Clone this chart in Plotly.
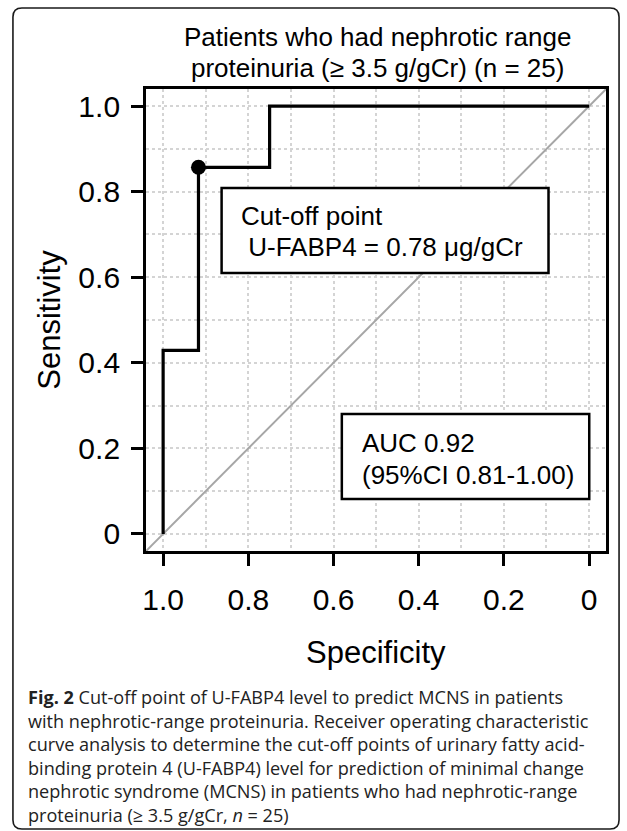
import plotly.graph_objects as go

W, H = 627, 831

# ---------------- data ----------------
specificity = [1.0, 1.0, 0.917, 0.917, 0.75, 0.75, 0.0]
sensitivity = [0.0, 0.429, 0.429, 0.857, 0.857, 1.0, 1.0]
cutoff_spec = [0.917]
cutoff_sens = [0.857]

x_tick_vals = [1.0, 0.8, 0.6, 0.4, 0.2, 0.0]
x_tick_text = ["1.0", "0.8", "0.6", "0.4", "0.2", "0"]
y_tick_vals = [0.0, 0.2, 0.4, 0.6, 0.8, 1.0]
y_tick_text = ["0", "0.2", "0.4", "0.6", "0.8", "1.0"]
minor_grid_vals = [0.1, 0.3, 0.5, 0.7, 0.9]

title_lines = ["Patients who had nephrotic range",
               "proteinuria (≥ 3.5 g/gCr) (n = 25)"]
cutoff_lines = ["Cut-off point", " U-FABP4 = 0.78 μg/gCr"]
auc_lines = ["AUC 0.92", "(95%CI 0.81-1.00)"]
x_title = "Specificity"
y_title = "Sensitivity"
caption_lines = [
    "<b>Fig. 2</b> Cut-off point of U-FABP4 level to predict MCNS in patients",
    "with nephrotic-range proteinuria. Receiver operating characteristic",
    "curve analysis to determine the cut-off points of urinary fatty acid-",
    "binding protein 4 (U-FABP4) level for prediction of minimal change",
    "nephrotic syndrome (MCNS) in patients who had nephrotic-range",
    "proteinuria (≥ 3.5 g/gCr, <i>n</i> = 25)",
]

# ---------------- layout helpers ----------------
def px(x):
    return x / W


def py(y):
    return 1 - y / H


PL, PR, PT, PB = 143, 606, 89, 551
X_RANGE = [1.04, -0.04]
Y_RANGE = [-0.04, 1.04]
FONT = "Liberation Sans, Arial, sans-serif"
CAP_FONT = "Open Sans, Noto Sans, sans-serif"
GRID = "#d4d4d4"

fig = go.Figure()

# chance diagonal spanning the whole plotting region
fig.add_trace(go.Scatter(
    x=X_RANGE, y=Y_RANGE, mode="lines",
    line=dict(color="#a6a6a6", width=2), hoverinfo="skip", showlegend=False))
# ROC curve
fig.add_trace(go.Scatter(
    x=specificity, y=sensitivity, mode="lines",
    line=dict(color="black", width=3.2), hoverinfo="skip", showlegend=False))
# cut-off point
fig.add_trace(go.Scatter(
    x=cutoff_spec, y=cutoff_sens, mode="markers",
    marker=dict(color="black", size=15), hoverinfo="skip", showlegend=False))

axis_common = dict(
    showline=True, linecolor="black", linewidth=3, mirror=True,
    ticks="outside", ticklen=12, tickwidth=2.8, tickcolor="black",
    tickfont=dict(family=FONT, size=30, color="black"),
    showgrid=True, gridcolor=GRID, gridwidth=2, griddash="dot",
    zeroline=False, tickmode="array",
    minor=dict(tickmode="array", tickvals=minor_grid_vals, showgrid=True,
               gridcolor=GRID, gridwidth=2, griddash="dot", ticks=""),
)

fig.update_xaxes(
    domain=[px(PL), px(PR)], range=X_RANGE,
    tickvals=x_tick_vals, ticktext=x_tick_text, ticklabelstandoff=8,
    **axis_common)
fig.update_yaxes(
    domain=[py(PB), py(PT)], range=Y_RANGE,
    tickvals=y_tick_vals, ticktext=y_tick_text, ticklabelstandoff=5,
    **axis_common)

shapes = []
# text boxes (legend-like)
shapes.append(dict(type="rect", xref="paper", yref="paper",
                   x0=px(219), x1=px(548), y0=py(273), y1=py(188),
                   fillcolor="white", line=dict(color="black", width=2.5),
                   layer="above"))
shapes.append(dict(type="rect", xref="paper", yref="paper",
                   x0=px(340), x1=px(589), y0=py(499), y1=py(414),
                   fillcolor="white", line=dict(color="black", width=2.5),
                   layer="above"))
# rounded outer frame
fl, fr, ft, fb, r = 9, 619, 8, 829, 9
path = (f"M {px(fl+r)},{py(ft)} L {px(fr-r)},{py(ft)} "
        f"Q {px(fr)},{py(ft)} {px(fr)},{py(ft+r)} "
        f"L {px(fr)},{py(fb-r)} Q {px(fr)},{py(fb)} {px(fr-r)},{py(fb)} "
        f"L {px(fl+r)},{py(fb)} Q {px(fl)},{py(fb)} {px(fl)},{py(fb-r)} "
        f"L {px(fl)},{py(ft+r)} Q {px(fl)},{py(ft)} {px(fl+r)},{py(ft)} Z")
shapes.append(dict(type="path", xref="paper", yref="paper", path=path,
                   line=dict(color="#1a1a1a", width=1.6), layer="below"))

annotations = []


def ann(text, x, y, size, xanchor="center", yanchor="middle", **kw):
    annotations.append(dict(
        text=text, x=px(x), y=py(y), xref="paper", yref="paper",
        xanchor=xanchor, yanchor=yanchor, showarrow=False,
        font=dict(family=kw.pop("family", FONT), size=size,
                  color=kw.pop("color", "black")), **kw))


ann(title_lines[0], 376, 37, 26)
ann(title_lines[1], 376, 68, 26)
ann(cutoff_lines[0], 237, 216, 26, xanchor="left")
ann(cutoff_lines[1], 237, 247, 26, xanchor="left")
ann(auc_lines[0], 358, 443, 26, xanchor="left")
ann(auc_lines[1], 358, 475, 26, xanchor="left")
ann(x_title, 374, 652, 31)
ann(y_title, 45, 320, 31, textangle=-90)
ann("<br>".join(caption_lines), 22, 683, 18.1, xanchor="left",
    yanchor="top", align="left", family=CAP_FONT, color="#222222")

fig.update_layout(
    width=W, height=H, margin=dict(l=0, r=0, t=0, b=0),
    paper_bgcolor="white", plot_bgcolor="white",
    shapes=shapes, annotations=annotations, showlegend=False,
)

fig.write_html("out.html")
